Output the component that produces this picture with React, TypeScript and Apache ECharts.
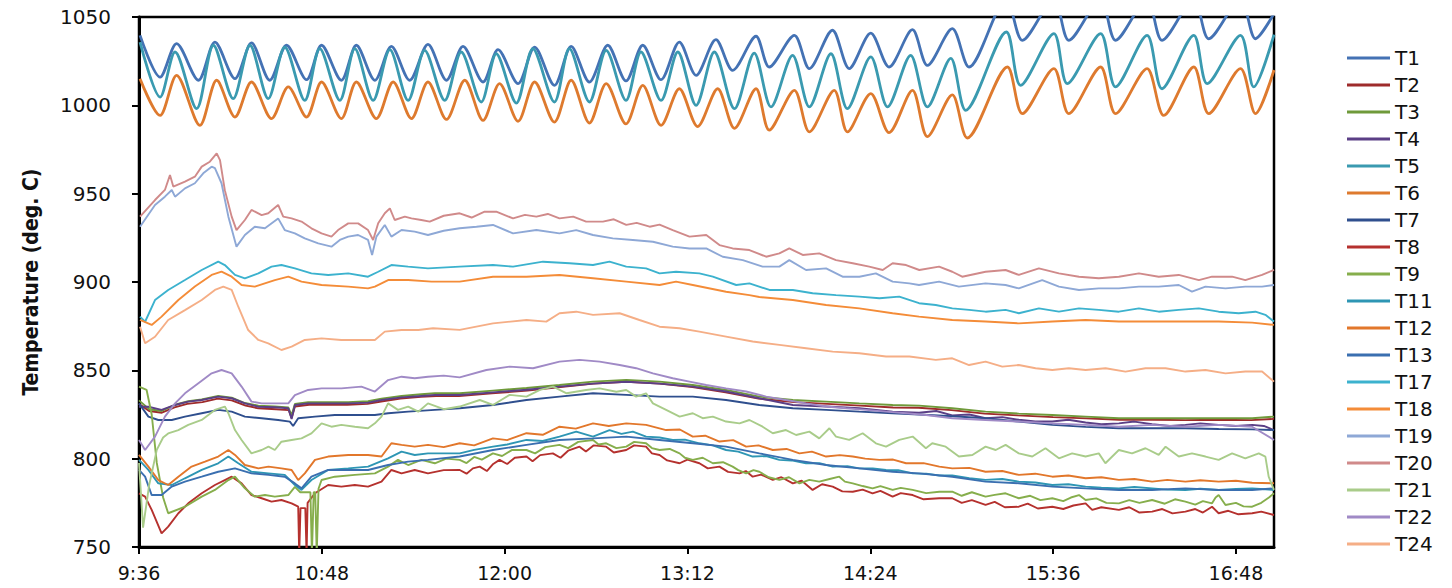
import React, { useEffect, useRef } from "react";
import * as echarts from "echarts";

const seriesNames = ["T1","T2","T3","T4","T5","T6","T7","T8","T9","T11","T12","T13","T17","T18","T19","T20","T21","T22","T24"];
const seriesColors = ["#4472B4","#9E2B2B","#6F9A3A","#5B3F86","#3A9AB0","#DE7A2E","#2F4F8E","#B5312E","#86AE4C","#2E96B4","#E2772B","#3A6FB0","#3CB2CE","#F48C38","#8EA8D6","#D08A8A","#A9CC8A","#A08AC6","#F5AE86"];
const yTicks = [750, 800, 850, 900, 950, 1000, 1050];
const xTickStep = 72; // minutes between time labels

// Time (minutes after midnight), temperature (deg. C)
const t1 = [[576.4,1039.6],[584.3,1016],[590.8,1034.9],[599.4,1014.2],[605.9,1035.8],[613.8,1015.1],[620.3,1035.3],[627.5,1014.2],[634.1,1034],[642,1014.5],[647.9,1034],[655.7,1014.2],[661.6,1034],[668.9,1014.2],[675.4,1033.4],[682.6,1014.2],[689.8,1034.5],[697.1,1014.2],[703.6,1033.4],[711.5,1013.2],[717.4,1031.5],[725.3,1012.3],[731.8,1033],[739.6,1011.3],[746.2,1033.4],[753.4,1013.2],[760.6,1034],[767.8,1013.8],[774.4,1034],[781.6,1014.5],[788.8,1035.8],[795.4,1017],[803.2,1037.2],[809.8,1019.8],[819,1039.1],[824.2,1021.7],[834.1,1039.6],[840,1020.8],[849.1,1042.5],[855.7,1020.8],[864.2,1040.9],[871.4,1021.7],[880.6,1042.8],[886.5,1022.6],[896.3,1043.4],[902.9,1021.7],[917.6,1060],[923.9,1036.8],[936.3,1060],[942.2,1036.8],[954.7,1060],[960.6,1036.8],[973,1060],[978.9,1036.8],[991.4,1060],[997.3,1037.7],[1009.8,1060],[1015.7,1037.7],[1023,1052]];
const t5 = [[576.4,1035.8],[584.3,1004.7],[590.2,1030.2],[598.7,998.1],[605.3,1034],[613.1,1003.8],[619.7,1034],[626.9,1003.8],[633.4,1033],[641.3,1002.8],[647.2,1032.1],[655.1,1002.8],[661,1032.1],[668.2,1002.8],[674.8,1031.5],[682,1002.8],[688.5,1031.1],[696.4,1002.8],[702.9,1030.2],[710.8,1001.9],[716.7,1029.2],[724.6,1001.3],[731.1,1032.1],[739.6,1001.9],[745.5,1032.1],[753.4,1001.9],[760,1031.1],[767.8,1002.8],[773.7,1030.2],[781.6,1002.8],[788.2,1030.2],[795.4,1000],[802.6,1030.2],[810.5,998.1],[818.3,1029.6],[824.9,999.1],[833.4,1028.3],[840,999.1],[848.5,1029.2],[855,998.1],[864.2,1027.4],[870.8,999.1],[879.9,1028.3],[886.5,999.1],[895.7,1026.6],[901.6,997.2],[917.6,1041.5],[923.2,1011.3],[936.3,1040.6],[941.6,1012.3],[954.7,1040.6],[960.6,1010.4],[973,1039.6],[978.9,1009.4],[991.4,1039.6],[996.7,1012.3],[1009.8,1039.6],[1015,1010.4],[1023,1040]];
const t6 = [[576.4,1015.1],[584.3,994.3],[590.8,1017],[600,988.7],[606.6,1014.2],[613.8,993.4],[620.3,1013.2],[628.2,992.5],[634.8,1010.4],[642,993.4],[647.9,1013.2],[655.7,992.5],[661.6,1013.2],[669.5,992.5],[676.1,1013.2],[683.3,992.5],[689.8,1013.2],[697.1,992],[704.3,1014.2],[711.5,991.5],[718,1012.3],[725.3,991],[731.8,1013.2],[739.6,990.5],[746.2,1014.2],[753.4,990],[760,1012.3],[767.8,989.5],[774.4,1011.3],[781.6,988.7],[788.8,1009.4],[796,988],[803.9,1009.4],[810.5,987],[819,1009.4],[824.2,986],[834.1,1008.5],[840,985],[849.8,1008.5],[855,985],[864.2,1006.6],[871.4,984.5],[880.6,1008.5],[886.5,982.3],[896.3,1005.9],[902.2,981.5],[918,1021.7],[923.9,995.3],[936.3,1020.8],[942.2,995.3],[954.7,1021.7],[960.6,995.3],[973,1020.8],[979.6,994.3],[991.4,1021.7],[997.3,995.3],[1009.8,1020.8],[1015.7,995.3],[1023,1020]];
const t20 = [[576.4,937],[582.3,946.4],[586.2,952.1],[588.2,960.6],[589.5,954],[594.1,956.8],[598,959.6],[600.7,965.3],[603.9,968.1],[606.6,972.8],[607.9,969],[609.8,952],[612.5,937],[614.4,929.4],[617.7,935.1],[620.3,940.8],[624.3,937.9],[626.9,938.9],[630.8,943.6],[632.8,937],[636.1,936],[640,934.2],[643.9,930.4],[647.9,927.5],[651.8,925.7],[654.4,929.4],[658.4,933.2],[662.3,933.2],[666.2,929.4],[668.2,923.8],[670.2,933.2],[672.8,938.9],[674.8,941.7],[676.7,935.1],[680.7,937],[683.3,936],[687.2,935.1],[690.5,934.2],[696,937.5],[702.3,938.9],[707,936.5],[712.1,939.8],[716.7,939.8],[723.3,936],[728,938],[732.5,937],[737,938.5],[741.6,936],[747,937],[752.1,934.2],[758.7,934.2],[763,935.5],[767.9,932.3],[772,933.5],[777.1,931.3],[781,932.5],[786.2,929.4],[792.8,925.7],[799.4,926.6],[804.6,920.9],[809.8,919],[816.4,918.1],[823,914.3],[828.2,916.2],[832.1,919],[837.4,915.3],[843.9,916.2],[850.5,912.4],[857.1,910.6],[863.6,908.7],[868.9,906.8],[872.8,910.6],[878.1,909.6],[883.3,906.8],[891.1,908.7],[896.3,905.8],[900.2,903],[909.4,905.8],[917.3,906.8],[922.5,904],[930.4,907.7],[938.3,904.9],[946.2,903],[954,902.1],[961.9,903],[969.8,904.9],[977.6,903],[985.5,904],[993.4,901.1],[998.6,903],[1006.5,903],[1011.7,901.1],[1018.3,904],[1023,906.8]];
const t19 = [[576.4,931.3],[582.3,943.6],[586.2,948.3],[588.9,952.1],[590.2,948.3],[594.1,953],[598,955.9],[601.3,961.5],[604.6,965.3],[605.9,964.4],[608.5,955.9],[611.2,937],[614.4,920],[617.7,926.6],[621.6,931.3],[625.6,930.4],[630.8,936],[633.4,929.4],[637.4,927.5],[641.3,924.7],[646.6,921.9],[651.8,920],[655.1,923.8],[658.4,925.7],[662.3,926.6],[666.2,923.8],[667.8,915.3],[669.5,925.7],[672.8,932.3],[675.4,925.7],[679.4,929.4],[684.6,928.5],[689.8,926.6],[696,929],[702.3,930.4],[708.9,931.3],[715.4,932.3],[723.3,927.5],[732.5,929.4],[741.6,927.5],[748.2,929.4],[754.8,926.6],[762.6,924.7],[770.5,923.8],[778.4,922.8],[786.2,920],[792.8,919],[799.4,919],[805.9,914.3],[813.8,912.4],[821.6,908.7],[828.2,908.7],[832.1,912.4],[838.7,906.8],[846.6,907.7],[853.1,903],[859.7,903],[866.2,904.9],[872.8,900.2],[879.4,899.2],[883.2,898.3],[891.1,900.2],[898.9,897.4],[909.4,899.2],[917.3,898.3],[922.5,896.4],[931.7,901.1],[938.3,897.4],[946.2,895.5],[954,896.4],[961.9,896.4],[969.8,897.4],[977.6,897.4],[985.5,898.3],[990.7,894.5],[996,897.4],[1003.9,896.4],[1011.7,897.4],[1018.3,897.4],[1023,898.3]];
const t17 = [[576.4,880.4],[578.4,877.5],[582.3,889.8],[587.5,895.5],[594.1,901.1],[600.7,906.8],[607.2,911.5],[609.8,909.6],[613.8,904],[617.7,902.1],[623,904.9],[628.2,908.7],[632.1,909.6],[637.4,907.7],[643.9,904.9],[650.5,904],[658.4,904.9],[666.2,903],[670.2,905.8],[675.4,909.6],[682,908.7],[689.8,907.7],[702.3,908.7],[715.4,909.6],[723.3,908.7],[735.1,911.5],[745.6,910.6],[754.8,909.6],[761.3,911.5],[767.9,908.7],[775.7,907.7],[781,904.9],[787.5,905.8],[796.7,904.9],[802,903],[811.2,898.3],[816.4,899.2],[824.3,895.5],[833.5,895.5],[841.3,893.6],[850.5,892.6],[859.7,891.7],[867.6,890.8],[875.4,891.7],[883.2,888],[889.8,887],[896.3,885.1],[902.9,884.2],[909.4,883.2],[917.3,884.2],[922.5,882.3],[930.4,885.1],[938.3,883.2],[946.2,885.1],[954,884.2],[961.9,883.2],[969.8,885.1],[977.6,883.2],[985.5,884.2],[993.4,885.1],[1001.2,883.2],[1009.1,882.3],[1015.7,883.2],[1019.6,881.4],[1023,877.6]];
const t18 = [[576.4,878.5],[581,875.7],[584.9,880.4],[591.5,889.8],[598,897.4],[604.6,904],[608.5,905.9],[612.5,903],[616.4,898.3],[621.6,897.4],[629.5,901.1],[634.8,903],[640,900.2],[647.9,898.3],[658.4,897.4],[666.2,896.4],[668.9,897.4],[674.1,901.1],[682,901.1],[691.2,900.2],[702.3,900.2],[715.4,903],[728.6,903],[741.6,904],[754.8,902.1],[767.9,900.2],[781,898.3],[787.5,900.2],[794.1,898.3],[807.2,894.5],[816.4,892.6],[820.3,891.5],[833.5,889.8],[846.6,887],[859.7,885.1],[872.8,882.3],[883.2,880.4],[896.3,878.5],[909.4,877.6],[922.5,876.6],[935.7,877.6],[948.8,878.5],[961.9,877.6],[975,877.6],[988.1,877.6],[1001.2,877.6],[1014.4,877],[1023,875.7]];
const t24 = [[576.4,874.7],[578.4,865.3],[582.3,869],[587.5,878.5],[594.1,884.1],[600.7,889.8],[605.9,895.5],[609.2,897.4],[612.5,895.5],[615.1,886],[619,872.8],[623,867.2],[626.9,865.3],[632.1,861.5],[636.1,863.4],[641.3,867.2],[647.9,868.1],[655.7,867.2],[663.6,867.2],[668.9,867.2],[672.8,871.9],[679.4,872.8],[686,872.8],[691.8,873.8],[702.3,872.9],[715.4,876.6],[728.6,878.5],[736.4,877.6],[741.6,882.3],[748.2,883.2],[754.8,881.4],[765.3,882.3],[773.1,878.5],[781,874.7],[788.9,873.8],[796.7,871.9],[807.2,869.1],[817.7,866.3],[828.2,864.4],[838.7,862.5],[849.2,860.6],[859.7,859.7],[870.2,857.8],[879.4,857.8],[889.8,855.9],[896.3,856.8],[902.9,853],[909.4,854.9],[916,852.1],[922.5,853],[929.1,851.2],[935.7,850.2],[942.2,851.2],[948.8,850.2],[956.7,851.2],[964.5,849.3],[972.4,851.2],[980.3,851.2],[988.1,849.3],[996,850.2],[1003.9,848.3],[1011.7,849.3],[1018.3,849.3],[1023,843.6]];
const t22 = [[576,810.6],[578.4,804.9],[582.3,812.5],[586.2,823.8],[590.2,831.3],[594.1,837],[599.4,842.7],[604.6,848.3],[608.5,850.2],[612.5,848.3],[616.4,840.8],[620.3,832.3],[624.3,831.3],[629.5,831.3],[634.8,831.3],[637.4,836],[642.6,838.9],[647.9,839.8],[655.7,839.8],[663.6,840.8],[668.9,838],[674.1,844.5],[679.4,846.4],[684.6,845.5],[689.8,846.4],[696,847],[702.3,846],[712.8,850.2],[722,852.1],[731.2,851.2],[741.6,854.9],[749.5,855.9],[757.4,854.9],[765.3,853],[771.8,851.2],[778.4,848.3],[786.2,845.5],[792.8,843.6],[799.4,841.7],[807.2,839.8],[815.1,838],[823,835.1],[830.8,833.2],[838.7,831.3],[846.6,829.5],[854.4,828.5],[862.3,827.6],[870.2,826.6],[878.1,825.7],[886,824.7],[896.3,822.9],[909.4,821.9],[922.5,821],[935.7,820],[948.8,819.1],[961.9,818.1],[975,819.1],[988.1,818.1],[1001.2,819.1],[1014.4,818.1],[1023,810.6]];
const t21 = [[576,797.6],[577.6,761],[580,785],[583,805],[585.5,812],[587.5,814.3],[591.5,816.2],[595.4,819.1],[600.7,821.9],[605.9,827.6],[609.8,829.5],[611.2,825.7],[613.8,816.2],[616.4,810.6],[620.3,803],[624.3,804.9],[627,806.8],[629.5,804.9],[632.1,809.6],[636.1,810.6],[640,811.5],[643.9,814.3],[647.9,820],[651.8,818.1],[655.7,819.1],[661,818.1],[666.2,817.2],[668.9,820],[671.5,823.8],[674.1,831.3],[678,827.6],[682,829.5],[686,826.6],[689.8,831.3],[696,828],[702.3,829.5],[710.2,833.2],[715.4,830.4],[722,836.1],[728.6,835.1],[733.9,838.9],[739.1,840.8],[744.4,837],[752.1,838.9],[757.4,839.8],[764,837.9],[767.9,838.9],[771.8,835.1],[775.7,837],[778.4,831.3],[783.6,827.6],[788.9,823.8],[794.1,825.7],[798,822.9],[802,823.8],[807.2,821],[812.5,820],[816.4,821.9],[821.6,818.1],[825.6,814.4],[830.8,816.2],[834.8,813.4],[840,815.3],[843.9,811.5],[847.9,817.2],[850.5,812.5],[855.7,810.6],[861,814.4],[866.2,808.7],[870.2,806.8],[875.4,810.6],[880.7,812.5],[885.9,805.9],[888.4,808.7],[893.7,806.8],[898.9,801.2],[904.2,802.1],[909.4,806.8],[913.4,804.9],[917.3,807.8],[922.5,803],[927.8,801.2],[933,805.9],[938.3,800.2],[943.5,803],[948.8,801.2],[954,803],[956.6,797.4],[961.9,804.9],[967.1,803],[972.4,805.9],[977.6,802.1],[980.3,806.8],[985.5,801.2],[990.7,803],[996,801.2],[1001.2,799.3],[1006.5,803],[1011.7,800.2],[1017,803],[1019.6,801.2],[1020.9,789.8],[1023,782.3]];
const t3 = [[576,833],[580,828],[584.9,827],[590.2,830.5],[595.4,832.5],[600.7,833.5],[607.2,835.5],[612.5,834.5],[617.7,831.5],[623,830],[629.5,829.5],[634.8,829],[636.1,824.5],[637.4,831],[642.6,832],[650.5,832],[658.4,832],[666.2,832.5],[671.5,834],[679.4,835.5],[687.2,836.5],[692.5,837],[702.3,837],[715.4,838.5],[728.6,840],[741.6,841.7],[754.8,843.6],[767.9,844.6],[781,843.6],[794.1,841.7],[807.2,838.9],[820.3,835.1],[833.5,833.2],[846.6,832.3],[859.7,831.3],[872.8,830.4],[883.2,830],[896.3,828.5],[909.4,826.6],[922.5,825.5],[935.7,824.7],[948.8,823.8],[961.9,822.9],[975,822.9],[988.1,822.9],[1001.2,822.9],[1014.4,822.9],[1023,823.8]];
const t2 = [[576,831],[580,827],[585,826],[590,829],[595,831],[601,832],[607,834],[612.5,833],[618,830],[623,828.5],[630,828],[635,827.5],[636.1,823],[637.4,829.5],[643,830.5],[650,830.5],[658,830.5],[666,831],[672,832.5],[679,834],[687,835],[693,835.5],[702,835.5],[715,837],[729,838.5],[742,840.5],[755,842.5],[768,843.5],[781,842.5],[794,840.5],[807,837.5],[820,834],[834,832],[847,831],[860,830],[873,829],[883,828.8],[896,827.5],[909,825.5],[922,824.5],[936,823.5],[949,822.8],[962,822],[975,822],[988,821.8],[1001,822],[1014,821.8],[1023,822.5]];
const t4 = [[576,829.4],[579.7,829.4],[584.9,827.6],[590.2,830.4],[595.4,832.3],[600.7,833.2],[607.2,835.1],[612.5,834.2],[617.7,831.3],[623,829.4],[629.5,829.1],[634.8,828.5],[636.1,822.5],[637.4,830.4],[642.6,831.3],[650.5,831.3],[658.4,831.3],[666.2,831.7],[671.5,833.2],[679.4,834.7],[687.2,835.5],[692.5,836],[702.3,836],[715.4,837.5],[728.6,839],[741.6,840.8],[754.8,842.5],[767.9,843.5],[781,842.5],[794.1,840.8],[807.2,838],[820.3,834.2],[833.5,830.4],[846.6,829.5],[859.7,828.5],[872.8,826.6],[883.2,826],[890,827],[896.3,824.5],[903,825],[909.4,822.9],[916,823.5],[922.5,822],[929,821],[935.7,821],[942,822],[948.8,820.5],[955,819.5],[961.9,820],[968,821],[975,819.5],[982,818.5],[988.1,819.1],[994,820],[1001.2,819.1],[1008,818.5],[1014.4,819.1],[1019,818.5],[1023,816.2]];
const t7 = [[576,831.3],[579.7,823.8],[583.6,821.9],[588.9,821.9],[594.1,823.8],[600.7,825.7],[607.2,827.6],[612.5,826.6],[617.7,823.8],[624.3,822.9],[630.8,821.9],[635.4,821],[636.7,818.5],[638.7,822.9],[645.3,823.8],[653.1,824.7],[661,824.7],[668.9,824.7],[674.1,825.7],[682,826.6],[692.5,827.6],[702.3,828.5],[715.4,830.4],[728.6,833.2],[741.6,835.1],[754.8,837],[767.9,836.1],[781,835.1],[794.1,835.1],[807.2,833.2],[820.3,830.4],[833.5,828.5],[846.6,827.6],[859.7,826.6],[872.8,825.7],[883.2,825],[896.3,824],[909.4,822.9],[922.5,821],[935.7,819.1],[948.8,818],[961.9,817.2],[975,817.2],[988.1,817.2],[1001.2,816.8],[1014.4,816.6],[1023,816.2]];
const t12 = [[576,802.1],[579.7,795.5],[583.6,787.9],[587.5,785.1],[591.5,789.8],[596.7,795.5],[602,798.3],[607.2,801.2],[611.2,804.9],[613.8,802.1],[617.7,796.4],[623,794.5],[627,795.5],[632.1,794.5],[636.1,793.6],[638.7,787.9],[641.3,791.7],[645.3,799.3],[650.5,801.2],[658.4,802.1],[666.2,802.1],[671.5,801.2],[675.4,808.7],[679.4,807.8],[684.6,806.8],[689.8,807.8],[696,806.5],[702.3,808.7],[708,807.5],[715.4,811.5],[721,810.5],[728.6,814.4],[735,813.5],[741.6,818.1],[748,817],[754.8,820],[761,818.5],[767.9,820],[775.7,819.1],[783.6,816.2],[789,816.5],[794.1,812.5],[799,813],[804.6,809.7],[810,810.5],[815.1,806.8],[820,807.5],[825.6,804.9],[831,805.5],[836.1,803],[841,804],[846.6,801.2],[852,802],[857.1,801.2],[862,800],[867.6,799.3],[873,799.5],[878.1,797.4],[885,797.5],[891.2,795.5],[896.3,794.5],[903,794.8],[909.4,792.6],[916,793],[922.5,790.8],[929,791.5],[935.7,789.8],[942,790.5],[948.8,788.9],[955,789.5],[961.9,788],[968,788.5],[975,787],[981,788],[988.1,787],[994,787.8],[1001.2,787],[1008,787.5],[1014.4,786.4],[1023,786.1]];
const t11 = [[576,799.3],[579.7,793.6],[583.6,786],[588.9,785.1],[594.1,788.9],[600.7,793.6],[607.2,797.4],[611.2,801.2],[615.1,797.4],[620.3,792.6],[627,791.7],[633.4,790.8],[637.4,785.1],[640,782.3],[643.9,787.9],[650.5,793.6],[658.4,794.5],[666.2,795.5],[674.1,800.2],[679.4,804],[684.6,802.1],[689.8,803],[702.3,803],[708,805],[715.4,806.8],[721,808],[728.6,810.6],[735,810],[741.6,812.5],[748.2,815.3],[754.8,812.5],[761.3,816.2],[766,814],[770.5,815.3],[775.7,812.5],[781,812],[786.2,810.6],[791,810.8],[796.7,808.7],[802,807.5],[807.2,804.9],[812,804],[817.7,801.2],[823,801.5],[828.2,799.3],[833,799],[838.7,797.4],[844,797.5],[849.2,795.5],[855,795.8],[859.7,794.5],[865,794.5],[870.2,793.6],[875,793.5],[880.7,791.7],[886,791.5],[891.2,790.5],[896.3,790.5],[903,789],[909.4,788],[916,788.5],[922.5,787],[929,786.5],[935.7,785.1],[942,785.5],[948.8,784.2],[955,783.5],[961.9,783.2],[968,784],[975,783.2],[981,782.5],[988.1,782.3],[994,783],[1001.2,782.3],[1008,782.8],[1014.4,783.2],[1023,782.3]];
const t13 = [[576,793.6],[578.4,789.8],[581,779.4],[584.9,779.4],[588.9,784.2],[594.1,787],[600.7,789.8],[607.2,792.6],[613.8,794.5],[620.3,791.7],[627,790.8],[633.4,789.8],[637.4,786],[640,783.2],[643.9,789.8],[650.5,793.6],[658.4,793.6],[666.2,793.6],[674.1,796.4],[682,798.3],[689.8,799.3],[702.3,801.2],[715.4,804.9],[728.6,807.8],[741.6,810.6],[754.8,811.5],[767.9,812.5],[781,810.6],[794.1,808.7],[807.2,806.8],[820.3,803],[833.5,799.3],[846.6,796.4],[859.7,794.5],[872.8,792.6],[883.2,791.7],[896.3,789.8],[909.4,787],[922.5,786.1],[935.7,784.2],[948.8,783.2],[961.9,782.3],[975,782.3],[988.1,783.2],[1001.2,782.3],[1014.4,782.3],[1023,783.2]];
const t9 = [[576,840.8],[579,838.9],[581,825],[583,797.6],[585.5,778],[587.5,769.1],[594.1,772.8],[600.7,778.5],[605.9,782.3],[611.2,787.9],[613.8,789.8],[617.7,783.2],[621.6,778.5],[625.6,779.4],[629.5,778.5],[634.8,779.4],[637.4,784],[639.5,781],[643.5,781],[644.1,746],[644.8,781],[645.4,781],[646,746],[646.7,783],[647.9,787.9],[653.1,789.8],[661,790.8],[668.9,791.7],[674.1,795.5],[678,799.3],[682,796.4],[687.2,799.3],[692.5,797.4],[697,800],[702.3,799.3],[705,797.5],[708,801],[711,799.5],[715.4,803],[719,801.5],[723,805],[728.6,804.9],[732,803],[736,806.5],[741.6,807.8],[745,806],[749,809.5],[754.8,810.6],[757,808],[760,808.7],[764,806],[767.9,806.8],[771,809.5],[775.7,808.7],[778,806],[781,804.9],[785,805.5],[788.9,803],[791,800.5],[794.1,799.3],[798,800.5],[802,797.4],[806,798],[809.8,795.5],[812,793.5],[815.1,791.7],[818,793.5],[820.3,792.6],[824,789.5],[828.2,788],[832,789.5],[836.1,786],[840,788],[843.9,787],[848,788.5],[851.8,789.8],[854,787],[857.1,786],[861,784.5],[864.9,783.2],[868,784.5],[872.8,782.3],[876,783.5],[880.7,782.3],[886,780.5],[891.2,781.3],[896.3,781.3],[900,779],[904,781],[909.4,778.5],[913,779.5],[917.3,780.4],[922.5,777.6],[927,779],[931,776.5],[935.7,777.6],[940,776],[943,778],[946.2,779.4],[948.8,776.6],[953,777.5],[957,775],[961.9,774.7],[966,776.5],[970,775],[975,776.6],[980,774.5],[984,777],[988.1,775.7],[992,774],[995,776],[998.6,774.7],[1000,778],[1001.2,779.4],[1003.9,773.8],[1008,775],[1011,773],[1014.4,772.8],[1018,775],[1021,778],[1023,780.4]];
const t8 = [[576,780.4],[578.4,778.5],[581,771],[584.9,757.7],[587.5,761.5],[591.5,769.1],[595.4,774.7],[600.7,780.4],[605.9,785.1],[609.8,787.9],[612.5,789.8],[616.4,786],[620.3,779.4],[624.3,777.6],[628.2,775.7],[632.1,776.6],[636.1,774.7],[638.7,772.8],[639.1,746],[639.6,772],[641.5,772],[642,746],[642.4,775],[645.3,780.4],[650.5,785.1],[655.7,784.2],[661,785.1],[666.2,784.2],[671.5,787],[675.4,793.6],[679.4,791.7],[684.6,793.6],[689.8,791.7],[696,793.5],[702.3,793.6],[705,791.5],[707.5,794.5],[710.2,795.5],[713,793],[715.5,797],[718,799.3],[721,797],[724,800.5],[728.6,801.2],[731,798.5],[734,802],[739,803],[742,800.5],[745,804.5],[749.5,806.8],[752,804],[755,807.5],[760,806.8],[763,803.5],[767.9,804.9],[771,807.5],[775.7,806.8],[778,803],[781,802.1],[784,799],[788.9,797.4],[792,799.5],[796.7,797.4],[800,794.5],[804.6,795.5],[808,792.5],[812.5,791.7],[815,793],[817.7,789.8],[821,791],[825.6,788],[829,789.5],[833.5,786],[837,787.5],[841.3,782.3],[845,785.5],[849.2,784.2],[853,781.5],[857.1,781.3],[861,782.5],[864.9,780.4],[868,781.8],[872.8,778.5],[876,780.5],[880.7,779.4],[885,777],[891.2,777.6],[896.3,777.6],[900,775],[904,776.5],[909.4,773.8],[913,775.5],[917,772.5],[922.5,772.8],[926,774.5],[930,771.8],[935.7,772.8],[940,771.5],[944,773.5],[948.8,774.7],[951.4,771],[955,772.5],[961.9,771],[966,772.5],[970,769.5],[975,770],[979,771.5],[983,769],[988.1,770],[992,771.5],[995,769.5],[998.6,772.8],[1001.2,769.1],[1005,770.5],[1009,768.5],[1014.4,769.1],[1018,770],[1023,768.1]];

const seriesData = [t1, t2, t3, t4, t5, t6, t7, t8, t9, t11, t12, t13, t17, t18, t19, t20, t21, t22, t24];
const oscillating = ["T1", "T5", "T6"];

function fmtTime(v: number): string {
  const h = Math.floor(v / 60);
  const m = Math.round(v - h * 60);
  return h + ":" + (m < 10 ? "0" + m : String(m));
}

export default function App() {
  const ref = useRef<HTMLDivElement>(null);
  useEffect(() => {
    const chart = echarts.init(ref.current!, null, { renderer: "svg" });
    const labelFont = "'DejaVu Sans', Verdana, sans-serif";
    chart.setOption({
      animation: false,
      backgroundColor: "#ffffff",
      grid: { left: 139, right: 178, top: 17, bottom: 41, show: true, borderColor: "#000", borderWidth: 2.5, backgroundColor: "transparent" },
      legend: {
        orient: "vertical",
        left: 1342,
        top: 43,
        icon: "rect",
        itemWidth: 43,
        itemHeight: 3,
        itemGap: 7,
        selectedMode: false,
        data: seriesNames,
        textStyle: { fontFamily: labelFont, fontSize: 20, color: "#111", lineHeight: 20 },
      },
      xAxis: {
        type: "value",
        min: 576,
        max: 1023,
        interval: xTickStep,
        axisLine: { show: true, lineStyle: { color: "#000", width: 3 } },
        axisTick: { show: true, inside: false, length: 7, lineStyle: { color: "#000", width: 2 } },
        splitLine: { show: false },
        axisLabel: {
          showMaxLabel: false,
          margin: 16,
          fontFamily: labelFont,
          fontSize: 19,
          lineHeight: 20,
          color: "#111",
          formatter: (v: number) => (v % xTickStep === 0 ? fmtTime(v) : ""),
        },
      },
      yAxis: {
        type: "value",
        min: yTicks[0],
        max: yTicks[yTicks.length - 1],
        interval: yTicks[1] - yTicks[0],
        name: "Temperature (deg. C)",
        nameLocation: "middle",
        nameGap: 98,
        nameTextStyle: { fontFamily: "'Liberation Sans Narrow', 'DejaVu Sans Condensed', sans-serif", fontWeight: "bold", fontSize: 21, color: "#111" },
        axisLine: { show: true, lineStyle: { color: "#000", width: 3 } },
        axisTick: { show: true, inside: false, length: 7, lineStyle: { color: "#000", width: 2 } },
        splitLine: { show: false },
        axisLabel: { margin: 28, fontFamily: labelFont, fontSize: 20, color: "#111", formatter: (v: number) => String(v) },
      },
      series: seriesNames.map((name, i) => {
        const osc = oscillating.indexOf(name) >= 0;
        return {
          name,
          type: "line",
          data: seriesData[i],
          showSymbol: false,
          symbol: "none",
          smooth: osc ? 0.3 : false,
          clip: true,
          color: seriesColors[i],
          lineStyle: { width: osc ? 2.8 : 1.9, color: seriesColors[i] },
          emphasis: { disabled: true },
        };
      }),
    });
    return () => chart.dispose();
  }, []);
  return <div ref={ref} style={{ position: "fixed", left: 0, top: 0, width: 1452, height: 588, background: "#fff" }} />;
}
